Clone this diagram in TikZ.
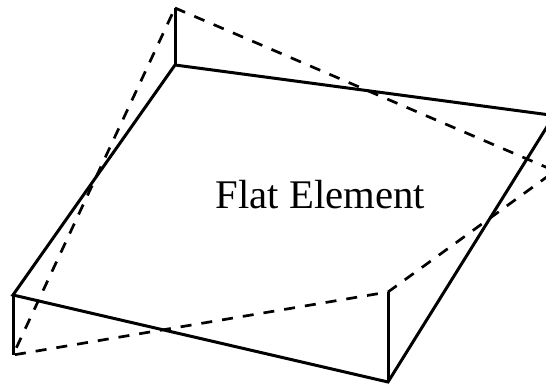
\documentclass[tikz,border=0pt]{standalone}
\usepackage{fontspec}
\setmainfont{Liberation Serif}
\usepackage{tikz}
\tikzset{flat/.style={line width=3pt},warped/.style={line width=2.7pt,dash pattern=on 11pt off 10pt}}
\begin{document}
\begin{tikzpicture}[x=1pt,y=-1pt]
\useasboundingbox (0,0) rectangle (546,385);
\clip (0,0) rectangle (546,385);
\coordinate (a) at (175,65);
\coordinate (b) at (554,115.5);
\coordinate (c) at (388,382);
\coordinate (d) at (13,295);
\coordinate (a2) at (175,8);
\coordinate (b2) at (555,171);
\coordinate (c2) at (388,292);
\coordinate (d2) at (13,355);
\draw[flat] (a) -- (b) -- (c) -- (d) -- cycle;
\draw[flat] (a) -- (a2);
\draw[flat] (c) -- (c2);
\draw[flat] (d) -- (d2);
\draw[warped] (a2) -- (b2) -- (c2) -- (d2) -- (a2);
\node (label) at (320.5,195) {\fontsize{40.7}{41}\selectfont Flat Element};
\end{tikzpicture}
\end{document}
